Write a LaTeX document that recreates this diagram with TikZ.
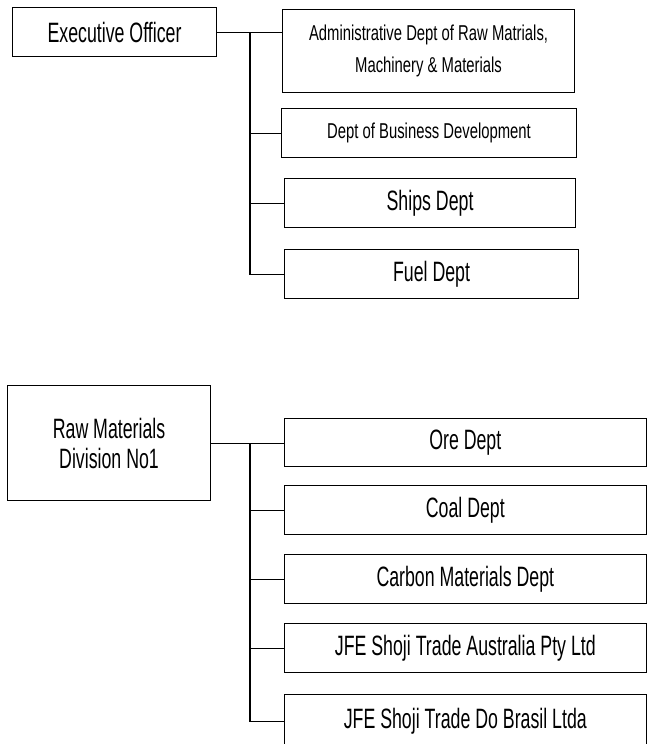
\documentclass[tikz,border=0pt]{standalone}
\usepackage{fontspec}
\setmainfont[FakeStretch=0.634]{Liberation Sans}
\newfontfamily\smallfam[FakeStretch=0.69]{Liberation Sans}
\begin{document}
\begin{tikzpicture}[x=1pt,y=-1pt,
  box/.style={draw, line width=1.1pt, anchor=north west, inner sep=0pt, align=center,
    font=\fontsize{28}{30}\selectfont},
  small/.style={font=\smallfam\fontsize{21.5}{32}\selectfont},
  link/.style={line width=1.1pt}]
\useasboundingbox (0,0) rectangle (646,744);
% top chart
\node[box, minimum width=204pt, minimum height=49pt] (exec) at (12,7) {Executive Officer};
\node[box, small, minimum width=292pt, minimum height=83pt] (admin) at (282,9) {Administrative Dept of Raw Matrials,\\Machinery \& Materials};
\node[box, small, minimum width=295pt, minimum height=49pt] (biz) at (281,108) {Dept of Business Development};
\node[box, minimum width=291pt, minimum height=49pt] (ships) at (284,178) {Ships Dept};
\node[box, minimum width=294pt, minimum height=49pt] (fuel) at (284,249) {Fuel Dept};
\coordinate (tA) at (250,0);
\draw[link] (exec.east) -- (exec.east -| admin.west);
\draw[link] (exec.east -| tA) |- (fuel.west);
\draw[link] (tA |- biz.west) -- (biz.west);
\draw[link] (tA |- ships.west) -- (ships.west);
% bottom chart
\node[box, minimum width=203pt, minimum height=115pt] (raw) at (7,385) {Raw Materials\\Division No1};
\node[box, minimum width=361.5pt, minimum height=48pt] (ore) at (284,418) {Ore Dept};
\node[box, minimum width=361.5pt, minimum height=49pt] (coal) at (284,485) {Coal Dept};
\node[box, minimum width=361.5pt, minimum height=49pt] (carbon) at (284,554) {Carbon Materials Dept};
\node[box, minimum width=361.5pt, minimum height=49pt] (aus) at (284,623) {JFE Shoji Trade Australia Pty Ltd};
\node[box, minimum width=361.5pt, minimum height=54pt] (brasil) at (284,694) {JFE Shoji Trade Do Brasil Ltda};
\coordinate (tB) at (250,0);
\draw[link] (raw.east) -- (raw.east -| ore.west);
\draw[link] (raw.east -| tB) |- (brasil.west);
\draw[link] (tB |- coal.west) -- (coal.west);
\draw[link] (tB |- carbon.west) -- (carbon.west);
\draw[link] (tB |- aus.west) -- (aus.west);
\end{tikzpicture}
\end{document}
